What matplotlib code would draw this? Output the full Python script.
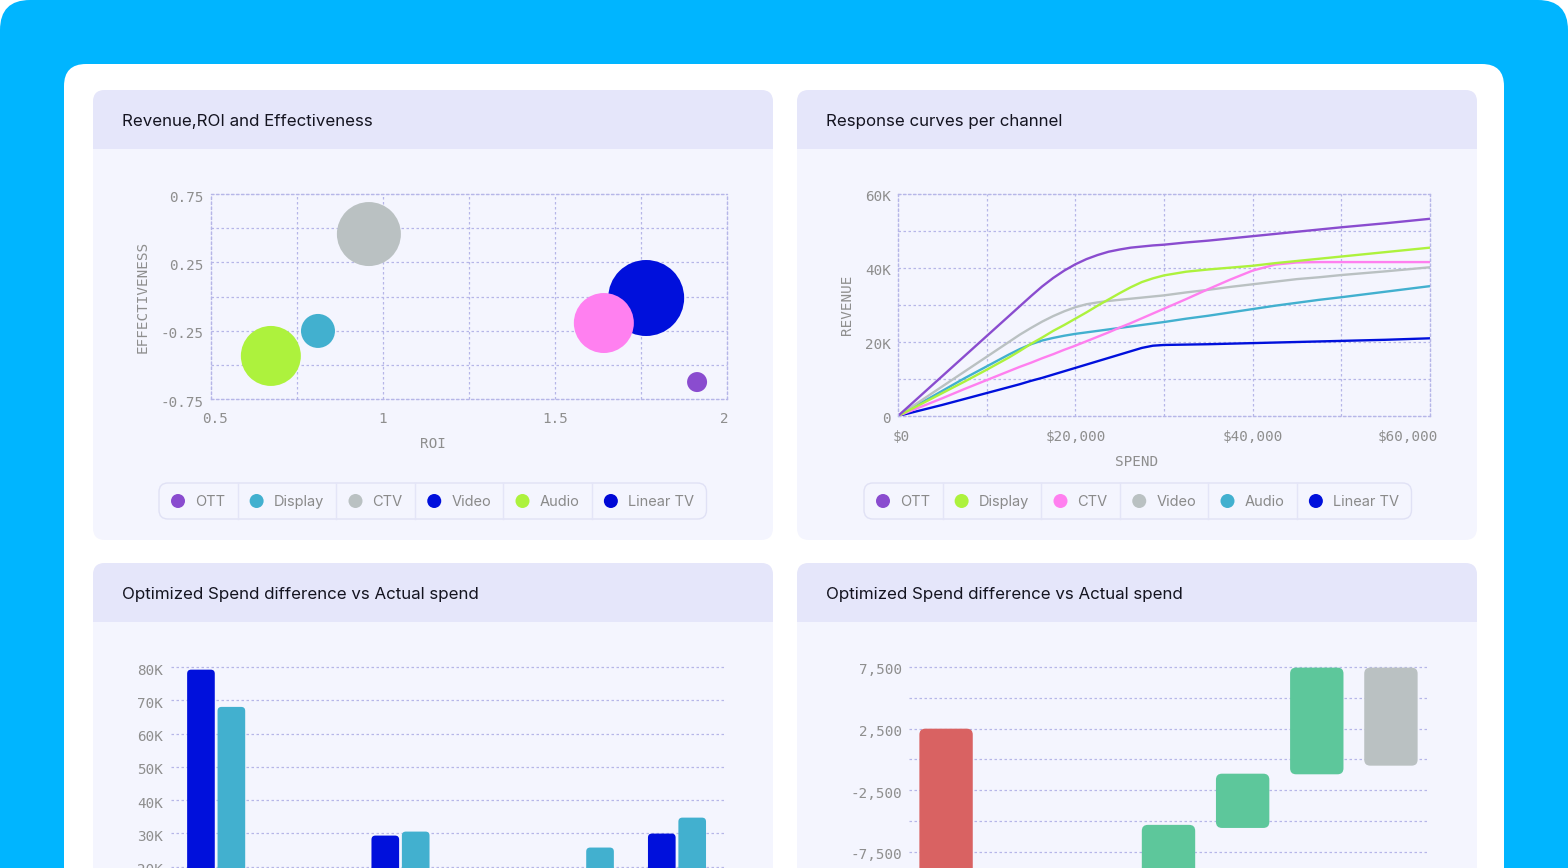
import matplotlib
matplotlib.use("Agg")
import matplotlib.pyplot as plt
from matplotlib.patches import FancyBboxPatch, Rectangle, Circle
from matplotlib.transforms import ScaledTranslation

# ── data ───────────────────────────────────────────────────────────────────
channels = ["OTT", "Display", "CTV", "Video", "Audio", "Linear TV"]

# bubble chart: ROI vs effectiveness, bubble = revenue
roi = [1.913, 0.811, 0.959, 1.765, 0.674, 1.642]
effectiveness = [-0.626, -0.252, 0.457, -0.011, -0.435, -0.194]
revenue_k = [10, 17, 32, 38, 30, 30]
bubble_colors = ["#8a4ccf", "#42b0cf", "#bac1c2", "#0010dc", "#adf23d", "#ff80f0"]
bubble_legend_colors = ["#8a4ccf", "#42b0cf", "#bac1c2", "#0010dc", "#adf23d", "#0008d6"]

# response curves
spend = [0, 2500, 5000, 7500, 10000, 12500, 13750, 15000, 16250, 17500,
         18750, 20000, 21250, 22500, 23750, 25000, 26250, 27500, 28750, 30000,
         32500, 35000, 37500, 40000, 42500, 45000, 47500, 50000, 55000, 60000]
curve_ott = [0, 5400, 10800, 16200, 21600, 27000, 29700, 32400, 35000, 37300,
             39300, 41000, 42400, 43500, 44400, 45000, 45500, 45800, 46100, 46300,
             46900, 47400, 48000, 48600, 49200, 49800, 50400, 51000, 52100, 53300]
curve_display = [0, 3100, 6200, 9300, 12500, 15800, 17600, 19500, 21200, 23000,
                 24600, 26300, 28000, 29800, 31500, 33200, 34800, 36200, 37200, 38000,
                 39000, 39600, 40100, 40600, 41300, 41900, 42500, 43100, 44300, 45500]
curve_ctv = [0, 2400, 4800, 7300, 9700, 12100, 13300, 14400, 15600, 16700,
             17900, 19000, 20200, 21400, 22600, 23900, 25100, 26400, 27700, 29000,
             31600, 34300, 36900, 39300, 40900, 41500, 41600, 41600, 41600, 41600]
curve_video = [0, 4000, 8000, 12000, 16000, 20000, 22000, 23800, 25500, 27000,
               28300, 29400, 30200, 30700, 31100, 31400, 31700, 32000, 32300, 32600,
               33400, 34100, 34900, 35600, 36300, 37000, 37500, 38100, 39100, 40200]
curve_audio = [0, 3400, 6800, 10200, 13400, 16600, 18100, 19400, 20400, 21100,
               21700, 22200, 22600, 23000, 23400, 23800, 24200, 24600, 25000, 25400,
               26300, 27100, 28000, 28900, 29800, 30600, 31400, 32100, 33600, 35100]
curve_linear = [0, 1500, 3000, 4600, 6200, 7800, 8600, 9500, 10300, 11200,
                12100, 13000, 13900, 14800, 15700, 16600, 17500, 18400, 19000, 19200,
                19300, 19400, 19550, 19700, 19850, 20000, 20150, 20300, 20600, 21000]
curves = [curve_ott, curve_display, curve_ctv, curve_video, curve_audio, curve_linear]
curve_colors = ["#8a4ccf", "#adf23d", "#ff7fef", "#bac1c2", "#42b0cf", "#0010dc"]

# grouped bars: actual vs optimized spend
actual_spend = [79200, 15000, 29300, 12000, 16000, 29900]
optimized_spend = [68000, 14000, 30500, 11000, 25700, 34700]

# waterfall: spend difference steps (bar bottom / top)
wf_steps = ["Actual", "OTT", "Display", "CTV", "Video", "Audio", "Optimized"]
wf_bottom = [-12500, -12500, -11000, -10000, -5550, -1200, -500]
wf_top = [2500, -11000, -10000, -5300, -1150, 7450, 7450]
wf_colors = ["#d96262", "#5dc79b", "#5dc79b", "#5dc79b", "#5dc79b", "#5dc79b", "#bac1c2"]

# ── style ──────────────────────────────────────────────────────────────────
W, H = 1568, 868
BLUE_BG = "#00b5ff"
HEAD = "#e5e6fa"
BODY = "#f4f5fe"
GRID = "#b6b6e8"
TICK = "#8e8e8e"
SANS = "Inter"
MONO = "DejaVu Sans Mono"
plt.rcParams["font.family"] = MONO

fig = plt.figure(figsize=(W / 100, H / 100), dpi=100)
fig.patch.set_facecolor("white")
bg = fig.add_axes([0, 0, 1, 1])
bg.set_xlim(0, W)
bg.set_ylim(H, 0)
bg.axis("off")


def rbox(x0, y0, x1, y1, r, fc, ec="none", lw=0):
    bg.add_patch(FancyBboxPatch((x0, y0), x1 - x0, y1 - y0,
                                boxstyle=f"round,pad=0,rounding_size={r}",
                                fc=fc, ec=ec, lw=lw))


def px_axes(l, t, r, b):
    return fig.add_axes([l / W, 1 - b / H, (r - l) / W, (b - t) / H])


def style_axes(ax, box=True, xgrid=True):
    ax.set_facecolor("none")
    ax.set_axisbelow(True)
    ax.tick_params(length=0, labelsize=10.3, labelcolor=TICK)
    ax.grid(True, axis="both" if xgrid else "y", color=GRID, lw=0.9, ls=(0, (2, 2)))
    for s in ax.spines.values():
        if box:
            s.set_color(GRID)
            s.set_linestyle((0, (2, 2)))
            s.set_linewidth(0.9)
        else:
            s.set_visible(False)


def finish_ticks(ax, dy_px=-2):
    off = ScaledTranslation(0, dy_px / 100, fig.dpi_scale_trans)
    for lab in ax.get_yticklabels():
        lab.set_transform(lab.get_transform() + off)
    for gl in ax.get_ygridlines() + ax.get_xgridlines():
        gl.set_clip_on(False)


def round_bars(ax, bars, radius_px):
    (x0, y0), (x1, y1) = ax.transData.transform([(0, 0), (1, 1)])
    ux, uy = 1 / abs(x1 - x0), 1 / abs(y1 - y0)
    for b in bars:
        x, y = b.get_xy()
        w, h = b.get_width(), b.get_height()
        if h < 0:
            y, h = y + h, -h
        ax.add_patch(FancyBboxPatch((x, y), w, h,
                                    boxstyle=f"round,pad=0,rounding_size={radius_px * ux}",
                                    mutation_aspect=uy / ux,
                                    fc=b.get_facecolor(), ec="none", zorder=2))
        b.remove()


def legend(x0, yc, labels, colors):
    renderer = fig.canvas.get_renderer()
    x = x0
    for i, (lab, col) in enumerate(zip(labels, colors)):
        bg.add_patch(Circle((x + 19, yc), 7, fc=col, ec="none"))
        t = bg.text(x + 36, yc + 5, lab, fontfamily=SANS, fontsize=10.5,
                    color="#8a8a8a", va="baseline", ha="left")
        x = x + 36 + t.get_window_extent(renderer).width + 12.5
        if i < len(labels) - 1:
            bg.plot([x, x], [yc - 18, yc + 18], color="#e4e5f7", lw=1)
    rbox(x0, yc - 18, x, yc + 18, 9, "none", ec="#e0e1f5", lw=1)


# ── background cards ──────────────────────────────────────────────────────
rbox(0, 0, W, H + 100, 30, BLUE_BG)
rbox(64, 64, 1504, H + 100, 22, "white")

panels = [(93, 90, 773, 540), (797, 90, 1477, 540),
          (93, 563, 773, 1013), (797, 563, 1477, 1013)]
titles = ["Revenue,ROI and Effectiveness", "Response curves per channel",
          "Optimized Spend difference vs Actual spend",
          "Optimized Spend difference vs Actual spend"]
for (l, t, r, b), title in zip(panels, titles):
    rbox(l, t, r, b, 12, BODY)
    rbox(l, t, r, t + 72, 12, HEAD)
    bg.add_patch(Rectangle((l, t + 59), r - l, 14, fc=BODY, ec="none"))
    bg.text(l + 29, t + 36, title, fontfamily=SANS, fontsize=12.2,
            color="#141420", va="baseline", ha="left")

# ── bubble chart ──────────────────────────────────────────────────────────
ax1 = px_axes(211, 194, 727, 399)
style_axes(ax1)
ax1.scatter(roi, effectiveness, s=[(1.44 * r) ** 2 for r in revenue_k],
            c=bubble_colors, edgecolors="none", zorder=2, clip_on=False)
ax1.set_xlim(0.5, 2)
ax1.set_ylim(-0.75, 0.75)
xt = [0.5 + 0.25 * i for i in range(7)]
ax1.set_xticks(xt)
ax1.set_xticklabels([f"{v:g}" if i % 2 == 0 else "" for i, v in enumerate(xt)])
yt = [-0.75 + 0.25 * i for i in range(7)]
ax1.set_yticks(yt)
ax1.set_yticklabels([f"{v:.2f}" if i % 2 == 0 else "" for i, v in enumerate(yt)])
ax1.tick_params(axis="x", pad=9.5)
ax1.tick_params(axis="y", pad=5)
xl = ax1.get_xticklabels()
xl[0].set_transform(xl[0].get_transform() + ScaledTranslation(0.04, 0, fig.dpi_scale_trans))
xl[-1].set_transform(xl[-1].get_transform() + ScaledTranslation(-0.03, 0, fig.dpi_scale_trans))
finish_ticks(ax1)
bg.text(143, 297, "EFFECTIVENESS", rotation=90, fontsize=10.3, color=TICK,
        ha="center", va="center")
bg.text(433, 444, "ROI", fontsize=10.3, color=TICK, ha="center", va="center")
legend(159, 501, channels, bubble_legend_colors)

# ── response curves ───────────────────────────────────────────────────────
ax2 = px_axes(898, 194, 1430, 416)
style_axes(ax2)
for ys, col in reversed(list(zip(curves, curve_colors))):
    ax2.plot(spend, ys, color=col, lw=1.7, solid_capstyle="round",
             solid_joinstyle="round", zorder=2)
ax2.set_xlim(0, 60000)
ax2.set_ylim(0, 60000)
xt = list(range(0, 60001, 10000))
ax2.set_xticks(xt)
ax2.set_xticklabels([f"${v:,}" if v % 20000 == 0 else "" for v in xt])
ax2.set_yticks(xt)
ax2.set_yticklabels([("0" if v == 0 else f"{v // 1000}K") if v % 20000 == 0 else ""
                     for v in xt])
ax2.tick_params(axis="x", pad=10)
ax2.tick_params(axis="y", pad=5)
labs = ax2.get_xticklabels()
labs[0].set_transform(labs[0].get_transform()
                      + ScaledTranslation(0.03, 0, fig.dpi_scale_trans))
labs[-1].set_ha("right")
labs[-1].set_transform(labs[-1].get_transform()
                       + ScaledTranslation(0.08, 0, fig.dpi_scale_trans))
finish_ticks(ax2)
bg.text(847, 305, "REVENUE", rotation=90, fontsize=10.3, color=TICK,
        ha="center", va="center")
bg.text(1137, 462, "SPEND", fontsize=10.3, color=TICK, ha="center", va="center")
legend(864, 501, channels, curve_colors)

# ── grouped bars ──────────────────────────────────────────────────────────
ax3 = px_axes(171, 667, 724, 933)
style_axes(ax3, box=False, xgrid=False)
ax3.set_xlim(-0.5, len(channels) - 0.5)
ax3.set_ylim(0, 80000)
xs = list(range(len(channels)))
b1 = ax3.bar([x - 0.175 for x in xs], actual_spend, width=0.3, color="#0010dc")
b2 = ax3.bar([x + 0.155 for x in xs], optimized_spend, width=0.3, color="#42b0cf")
ax3.set_xticks([])
yt = list(range(0, 80001, 10000))
ax3.set_yticks(yt)
ax3.set_yticklabels([f"{v // 1000}K" if v else "0" for v in yt])
ax3.tick_params(axis="y", pad=5.5)
finish_ticks(ax3)
round_bars(ax3, list(b1) + list(b2), 4)

# ── waterfall ─────────────────────────────────────────────────────────────
ax4 = px_axes(909, 667, 1428, 944.5)
style_axes(ax4, box=False, xgrid=False)
ax4.set_xlim(-0.5, len(wf_steps) - 0.5)
ax4.set_ylim(-15000, 7500)
bw = ax4.bar(range(len(wf_steps)), [t - b for t, b in zip(wf_top, wf_bottom)],
             bottom=wf_bottom, width=0.72, color=wf_colors)
ax4.set_xticks([])
yt = list(range(-15000, 7501, 2500))
ax4.set_yticks(yt)
ax4.set_yticklabels([f"{v:,}" if (v - 7500) % 5000 == 0 else "" for v in yt])
ax4.tick_params(axis="y", pad=5)
finish_ticks(ax4)
round_bars(ax4, list(bw), 6)

fig.savefig("out.png", dpi=100, facecolor="white")
